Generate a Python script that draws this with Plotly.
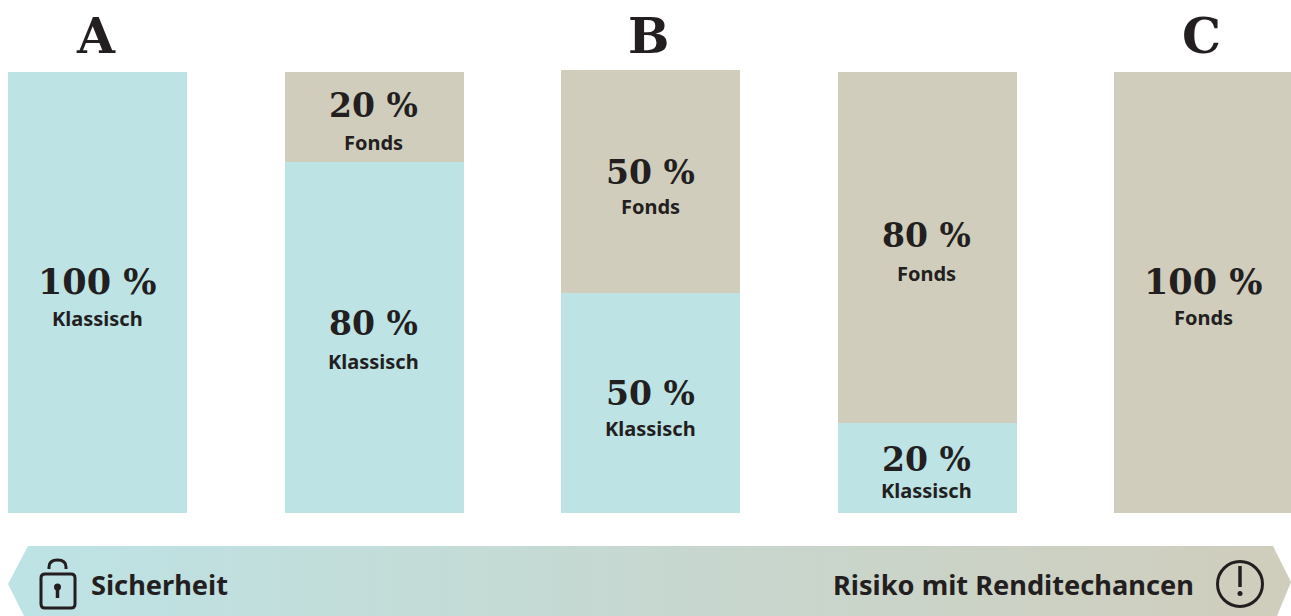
import plotly.graph_objects as go

# --- data ---
columns = [0, 1, 2, 3, 4]
column_letters = {0: "A", 2: "B", 4: "C"}
klassisch_pct = [100, 80, 50, 20, 0]
fonds_pct = [0, 20, 50, 80, 100]
# bar heights as drawn in the picture (slightly uneven in the original)
klassisch_drawn = [100, 79.6, 49.9, 20.4, 0]
fonds_drawn = [0, 20.4, 50.5, 79.6, 100]
left_label = "Sicherheit"
right_label = "Risiko mit Renditechancen"

# --- style / layout ---
W, H = 1291, 616
TEAL, TAUPE, INK = "#BDE3E5", "#D0CDBC", "#231F20"
SERIF, SANS = "DejaVu Serif", "Noto Sans"
COL_PX, FIRST_PX, BAR_PX = 276.5, 97.5, 179
Y0_PX, PX_PER_UNIT = 513, 4.41
x_range = [-FIRST_PX / COL_PX, (W - FIRST_PX) / COL_PX]
y_range = [(Y0_PX - H) / PX_PER_UNIT, Y0_PX / PX_PER_UNIT]
klassisch_label_y = [(281, 319), (323, 362), (393, 429), (459, 491), None]
fonds_label_y = [None, (105, 143), (172, 207), (235, 274), (281, 318)]

fig = go.Figure()
for name, vals, color in [("Klassisch", klassisch_drawn, TEAL), ("Fonds", fonds_drawn, TAUPE)]:
    fig.add_bar(x=columns, y=vals, name=name, marker=dict(color=color, line_width=0),
                width=BAR_PX / COL_PX, hoverinfo="skip", showlegend=False)

# gradient banner, in a pixel-based overlay axis pair
fig.add_scatter(
    x=[28, 1273, 1291, 1277, 24, 8, 28], y=[546, 546, 582, 616, 616, 584, 546],
    xaxis="x2", yaxis="y2", mode="lines", line_width=0, fill="toself",
    fillgradient=dict(type="horizontal", colorscale=[[0, TEAL], [1, TAUPE]]),
    hoverinfo="skip", showlegend=False,
)


def note(x, y, text, size, family, weight=700, anchor="center"):
    fig.add_annotation(x=x, y=y, xref="x2", yref="y2", text=text, showarrow=False,
                       xanchor=anchor, yanchor="middle",
                       font=dict(family=family, size=size, color=INK, weight=weight))


for col, letter in column_letters.items():
    note(FIRST_PX + COL_PX * col - 2, 36, letter, 49, SERIF)

for name, pcts, ys in [("Klassisch", klassisch_pct, klassisch_label_y), ("Fonds", fonds_pct, fonds_label_y)]:
    for col, pct, yy in zip(columns, pcts, ys):
        if yy is None:
            continue
        cx = FIRST_PX + COL_PX * col - 0.5
        note(cx, yy[0], f"{pct} %", 35 if pct == 100 else 33, SERIF, weight=800)
        note(cx, yy[1] - 0.5, name, 20, SANS)

note(89, 584, left_label, 27.2, SANS, anchor="left")
note(1196, 584, right_label, 27.2, SANS, anchor="right")

icon = dict(xref="x2", yref="y2")
stroke = dict(color=INK, width=3)
shapes = [
    # lock
    dict(type="path", path="M45,574 H71 Q75,574 75,578 V604 Q75,608 71,608 H45 Q41,608 41,604 V578 Q41,574 45,574 Z",
         line=stroke, **icon),
    dict(type="path", path="M49,569 V567 Q49,560 57.5,560 Q66,560 66,567 V569", line=stroke, **icon),
    dict(type="circle", x0=54, x1=61, y0=583.5, y1=590.5, fillcolor=INK, line_width=0, **icon),
    dict(type="line", x0=57.5, x1=57.5, y0=588, y1=598, line=dict(color=INK, width=3.5), **icon),
    # warning
    dict(type="circle", x0=1217.5, x1=1262.5, y0=561.5, y1=606.5, line=stroke, **icon),
    dict(type="line", x0=1240, x1=1240, y0=566, y1=587, line=dict(color=INK, width=3.5), **icon),
    dict(type="circle", x0=1237.5, x1=1242.5, y0=591, y1=596, fillcolor=INK, line_width=0, **icon),
]

fig.update_layout(
    width=W, height=H, barmode="stack", bargap=0,
    margin=dict(l=0, r=0, t=0, b=0), paper_bgcolor="white", plot_bgcolor="white",
    xaxis=dict(range=x_range, visible=False, fixedrange=True),
    yaxis=dict(range=y_range, visible=False, fixedrange=True),
    xaxis2=dict(range=[0, W], visible=False, overlaying="x", fixedrange=True),
    yaxis2=dict(range=[H, 0], visible=False, overlaying="y", fixedrange=True),
    shapes=shapes,
)
fig.write_html(
    "out.html",
    config=dict(displayModeBar=False),
    post_script="document.body.style.margin='0';document.documentElement.style.overflow='hidden';",
)
